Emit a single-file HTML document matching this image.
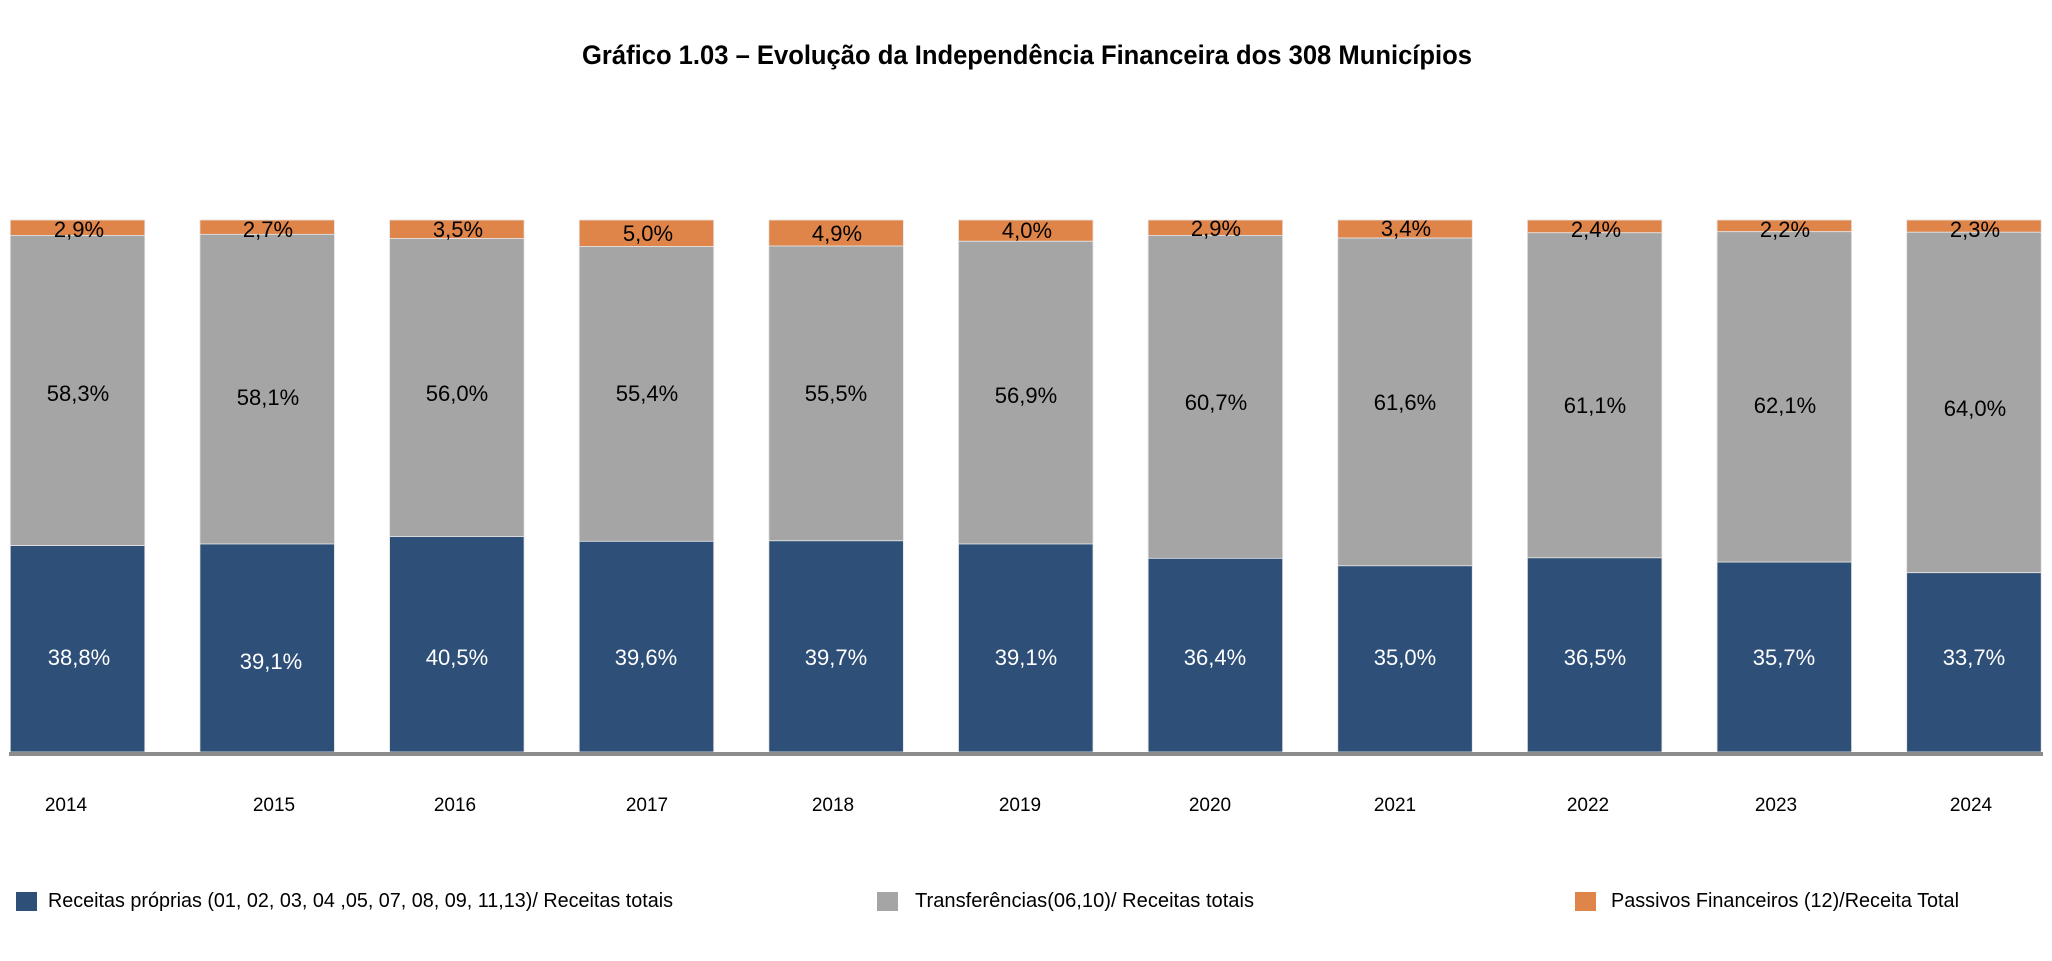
<!DOCTYPE html>
<html>
<head>
<meta charset="utf-8">
<style>
  html, body { margin: 0; padding: 0; background: #ffffff; }
  body { width: 2052px; height: 961px; overflow: hidden; }
  svg { display: block; }
  text { font-family: "Liberation Sans", "DejaVu Sans", sans-serif; }
</style>
</head>
<body>
<svg width="2052" height="961" viewBox="0 0 2052 961" xmlns="http://www.w3.org/2000/svg">
  <rect x="0" y="0" width="2052" height="961" fill="#ffffff"/>

  <!-- Title -->
  <text x="582" y="64" font-size="27" font-weight="bold" fill="#000" textLength="890" lengthAdjust="spacingAndGlyphs">Gráfico 1.03 – Evolução da Independência Financeira dos 308 Municípios</text>

  <g stroke="#e4e4e4" stroke-width="0.8">
    <!-- 2014 -->
    <rect x="10.3" y="220" width="134.5" height="15.43" fill="#e0854a"/>
    <rect x="10.3" y="235.43" width="134.5" height="310.15" fill="#a5a5a5"/>
    <rect x="10.3" y="545.58" width="134.5" height="206.42" fill="#2e4f77"/>
    <!-- 2015 -->
    <rect x="199.94" y="220" width="134.5" height="14.36" fill="#e0854a"/>
    <rect x="199.94" y="234.36" width="134.5" height="309.63" fill="#a5a5a5"/>
    <rect x="199.94" y="543.99" width="134.5" height="208.01" fill="#2e4f77"/>
    <!-- 2016 -->
    <rect x="389.58" y="220" width="134.5" height="18.62" fill="#e0854a"/>
    <rect x="389.58" y="238.62" width="134.5" height="297.92" fill="#a5a5a5"/>
    <rect x="389.58" y="536.54" width="134.5" height="215.46" fill="#2e4f77"/>
    <!-- 2017 -->
    <rect x="579.22" y="220" width="134.5" height="26.6" fill="#e0854a"/>
    <rect x="579.22" y="246.6" width="134.5" height="294.73" fill="#a5a5a5"/>
    <rect x="579.22" y="541.33" width="134.5" height="210.67" fill="#2e4f77"/>
    <!-- 2018 -->
    <rect x="768.86" y="220" width="134.5" height="26.07" fill="#e0854a"/>
    <rect x="768.86" y="246.07" width="134.5" height="294.73" fill="#a5a5a5"/>
    <rect x="768.86" y="540.8" width="134.5" height="211.2" fill="#2e4f77"/>
    <!-- 2019 -->
    <rect x="958.5" y="220" width="134.5" height="21.28" fill="#e0854a"/>
    <rect x="958.5" y="241.28" width="134.5" height="302.71" fill="#a5a5a5"/>
    <rect x="958.5" y="543.99" width="134.5" height="208.01" fill="#2e4f77"/>
    <!-- 2020 -->
    <rect x="1148.14" y="220" width="134.5" height="15.43" fill="#e0854a"/>
    <rect x="1148.14" y="235.43" width="134.5" height="322.92" fill="#a5a5a5"/>
    <rect x="1148.14" y="558.35" width="134.5" height="193.65" fill="#2e4f77"/>
    <!-- 2021 -->
    <rect x="1337.78" y="220" width="134.5" height="18.09" fill="#e0854a"/>
    <rect x="1337.78" y="238.09" width="134.5" height="327.71" fill="#a5a5a5"/>
    <rect x="1337.78" y="565.8" width="134.5" height="186.2" fill="#2e4f77"/>
    <!-- 2022 -->
    <rect x="1527.42" y="220" width="134.5" height="12.77" fill="#e0854a"/>
    <rect x="1527.42" y="232.77" width="134.5" height="325.05" fill="#a5a5a5"/>
    <rect x="1527.42" y="557.82" width="134.5" height="194.18" fill="#2e4f77"/>
    <!-- 2023 -->
    <rect x="1717.06" y="220" width="134.5" height="11.7" fill="#e0854a"/>
    <rect x="1717.06" y="231.7" width="134.5" height="330.38" fill="#a5a5a5"/>
    <rect x="1717.06" y="562.08" width="134.5" height="189.92" fill="#2e4f77"/>
    <!-- 2024 -->
    <rect x="1906.7" y="220" width="134.5" height="12.24" fill="#e0854a"/>
    <rect x="1906.7" y="232.24" width="134.5" height="340.48" fill="#a5a5a5"/>
    <rect x="1906.7" y="572.72" width="134.5" height="179.28" fill="#2e4f77"/>
  </g>

  <!-- Axis line -->
  <rect x="9" y="752" width="2034" height="4" fill="#8c8c8c"/>

  <!-- Orange labels -->
  <g font-size="22" fill="#000" text-anchor="middle">
    <text x="79" y="237">2,9%</text>
    <text x="268" y="237">2,7%</text>
    <text x="458" y="237">3,5%</text>
    <text x="648" y="241">5,0%</text>
    <text x="837" y="241">4,9%</text>
    <text x="1027" y="238">4,0%</text>
    <text x="1216" y="236">2,9%</text>
    <text x="1406" y="236">3,4%</text>
    <text x="1596" y="237">2,4%</text>
    <text x="1785" y="237">2,2%</text>
    <text x="1975" y="237">2,3%</text>
  </g>

  <!-- Grey labels -->
  <g font-size="22" fill="#000" text-anchor="middle">
    <text x="78" y="401">58,3%</text>
    <text x="268" y="405">58,1%</text>
    <text x="457" y="401">56,0%</text>
    <text x="647" y="401">55,4%</text>
    <text x="836" y="401">55,5%</text>
    <text x="1026" y="403">56,9%</text>
    <text x="1216" y="410">60,7%</text>
    <text x="1405" y="410">61,6%</text>
    <text x="1595" y="413">61,1%</text>
    <text x="1785" y="413">62,1%</text>
    <text x="1975" y="416">64,0%</text>
  </g>

  <!-- Blue labels -->
  <g font-size="22" fill="#ffffff" text-anchor="middle">
    <text x="79" y="665">38,8%</text>
    <text x="271" y="669">39,1%</text>
    <text x="457" y="665">40,5%</text>
    <text x="646" y="665">39,6%</text>
    <text x="836" y="665">39,7%</text>
    <text x="1026" y="665">39,1%</text>
    <text x="1215" y="665">36,4%</text>
    <text x="1405" y="665">35,0%</text>
    <text x="1595" y="665">36,5%</text>
    <text x="1784" y="665">35,7%</text>
    <text x="1974" y="665">33,7%</text>
  </g>

  <!-- Year labels -->
  <g font-size="19" fill="#000" text-anchor="middle">
    <text x="66" y="811">2014</text>
    <text x="274" y="811">2015</text>
    <text x="455" y="811">2016</text>
    <text x="647" y="811">2017</text>
    <text x="833" y="811">2018</text>
    <text x="1020" y="811">2019</text>
    <text x="1210" y="811">2020</text>
    <text x="1395" y="811">2021</text>
    <text x="1588" y="811">2022</text>
    <text x="1776" y="811">2023</text>
    <text x="1971" y="811">2024</text>
  </g>

  <!-- Legend -->
  <rect x="16" y="892" width="21" height="19" fill="#2e4f77"/>
  <text x="48" y="907" font-size="20" fill="#000" textLength="625" lengthAdjust="spacingAndGlyphs">Receitas próprias (01, 02, 03, 04 ,05, 07, 08, 09, 11,13)/ Receitas totais</text>

  <rect x="877" y="892" width="21" height="19" fill="#a5a5a5"/>
  <text x="915" y="907" font-size="20" fill="#000" textLength="339" lengthAdjust="spacingAndGlyphs">Transferências(06,10)/ Receitas totais</text>

  <rect x="1575" y="892" width="21" height="19" fill="#e0854a"/>
  <text x="1611" y="907" font-size="20" fill="#000" textLength="348" lengthAdjust="spacingAndGlyphs">Passivos Financeiros (12)/Receita Total</text>
</svg>
</body>
</html>
